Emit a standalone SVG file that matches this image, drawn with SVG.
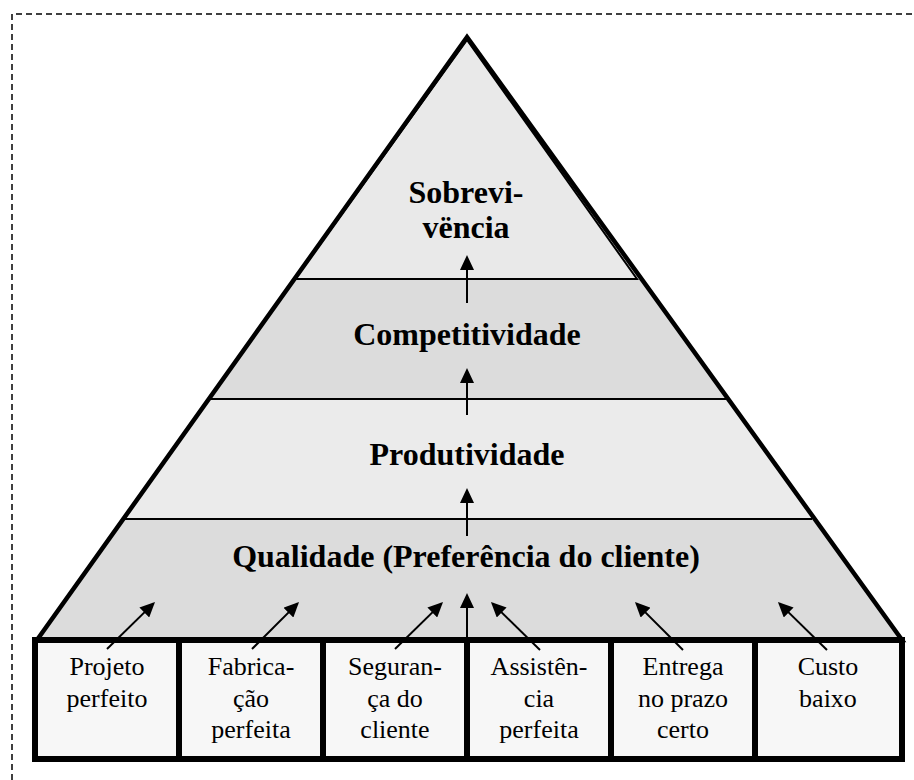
<svg xmlns="http://www.w3.org/2000/svg" width="914" height="780" viewBox="0 0 914 780">
<style>
.title{font-family:"Liberation Serif","Times New Roman",serif;font-weight:bold;font-size:32px;text-anchor:middle;fill:#000}
.lbl{font-family:"Liberation Serif","Times New Roman",serif;font-size:26px;text-anchor:middle;fill:#000}
.thin{stroke:#000;stroke-width:2;fill:none}
.arr{stroke:#000;stroke-width:2;fill:none;marker-end:url(#ah)}
.box{fill:#f7f7f7;stroke:#000;stroke-width:6}
</style>
<defs>
<marker id="ah" markerUnits="userSpaceOnUse" markerWidth="16" markerHeight="14" refX="13" refY="7" orient="auto">
<path d="M0,0 L15,7 L0,14 z" fill="#000"/>
</marker>
</defs>
<rect width="914" height="780" fill="#fff"/>
<path d="M12,780 L12,14 L914,14" fill="none" stroke="#000" stroke-width="1.5" stroke-dasharray="6,4"/>

<g id="layer-qualidade">
<polygon points="121,519 816,519 902,640 37,640" fill="#dcdcdc"/>
<text class="title" x="466" y="567">Qualidade (Preferência do cliente)</text>
</g>
<g id="layer-produtividade">
<polygon points="207,399 730,399 816,519 121,519" fill="#ebebeb"/>
<line class="thin" x1="124" y1="519" x2="812" y2="519"/>
<text class="title" x="467" y="465">Produtividade</text>
</g>
<g id="layer-competitividade">
<polygon points="294,279 642,279 730,399 207,399" fill="#dcdcdc"/>
<line class="thin" x1="209" y1="399" x2="726" y2="399"/>
<text class="title" x="467" y="345">Competitividade</text>
</g>
<g id="layer-sobrevivencia">
<polygon points="467,37 642,279 294,279" fill="#e9e9e9"/>
<polygon points="467,40 637,279 295,279" class="thin"/>
<text class="title" x="466" y="203">Sobrevi-</text>
<text class="title" x="466" y="238">vëncia</text>
</g>
<g id="pyramid-outline">
<polygon points="467,37 902,640 37,640" fill="none" stroke="#000" stroke-width="4.5" stroke-linejoin="miter"/>
</g>

<g id="box-projeto">
<rect class="box" x="35" y="640" width="144" height="119"/>
<text class="lbl" x="107" y="675">Projeto</text>
<text class="lbl" x="107" y="707">perfeito</text>
</g>
<g id="box-fabricacao">
<rect class="box" x="179" y="640" width="144" height="119"/>
<text class="lbl" x="251" y="675">Fabrica-</text>
<text class="lbl" x="251" y="707">ção</text>
<text class="lbl" x="251" y="738">perfeita</text>
</g>
<g id="box-seguranca">
<rect class="box" x="323" y="640" width="144" height="119"/>
<text class="lbl" x="395" y="675">Seguran-</text>
<text class="lbl" x="395" y="707">ça do</text>
<text class="lbl" x="395" y="738">cliente</text>
</g>
<g id="box-assistencia">
<rect class="box" x="467" y="640" width="144" height="119"/>
<text class="lbl" x="539" y="675">Assistên-</text>
<text class="lbl" x="539" y="707">cia</text>
<text class="lbl" x="539" y="738">perfeita</text>
</g>
<g id="box-entrega">
<rect class="box" x="611" y="640" width="144" height="119"/>
<text class="lbl" x="683" y="675">Entrega</text>
<text class="lbl" x="683" y="707">no prazo</text>
<text class="lbl" x="683" y="738">certo</text>
</g>
<g id="box-custo">
<rect class="box" x="755" y="640" width="147" height="119"/>
<text class="lbl" x="828" y="675">Custo</text>
<text class="lbl" x="828" y="707">baixo</text>
</g>

<g id="connectors">
<line class="arr" x1="467" y1="303" x2="467" y2="257"/>
<line class="arr" x1="467" y1="415" x2="467" y2="370"/>
<line class="arr" x1="467" y1="536" x2="467" y2="490"/>
<line class="arr" x1="467" y1="640" x2="467" y2="595"/>
<line class="arr" x1="107" y1="649" x2="153.6" y2="603.4"/>
<line class="arr" x1="252" y1="649" x2="297.6" y2="603.4"/>
<line class="arr" x1="395" y1="649" x2="441.6" y2="603.4"/>
<line class="arr" x1="540" y1="650" x2="492.4" y2="603.4"/>
<line class="arr" x1="683" y1="650" x2="636.4" y2="603.4"/>
<line class="arr" x1="827" y1="650" x2="779.4" y2="603.4"/>
</g>
</svg>
